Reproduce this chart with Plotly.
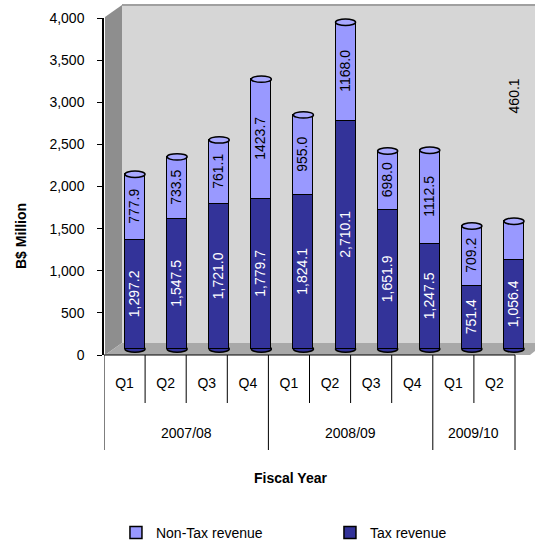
import plotly.graph_objects as go

# ---- data ----
fiscal_years = ["2007/08", "2007/08", "2007/08", "2007/08",
                "2008/09", "2008/09", "2008/09", "2008/09",
                "2009/10", "2009/10"]
quarters = ["Q1", "Q2", "Q3", "Q4", "Q1", "Q2", "Q3", "Q4", "Q1", "Q2"]
tax_revenue = [1297.2, 1547.5, 1721.0, 1779.7, 1824.1, 2710.1, 1651.9, 1247.5, 751.4, 1056.4]
nontax_revenue = [777.9, 733.5, 761.1, 1423.7, 955.0, 1168.0, 698.0, 1112.5, 709.2, 460.1]
y_ticks = [0, 500, 1000, 1500, 2000, 2500, 3000, 3500, 4000]

W, H = 535, 543
ML, MR, MT, MB = 104, 3, 18, 188
PW = W - ML - MR
PH = H - MT - MB
CAT_PX = 41.1      # pixel width of one category cell in the table
BAR_PX = 42.11     # perspective spacing of the cylinders
BAR0_PX = 135      # centre of first cylinder
FONT = "Liberation Sans, Arial, sans-serif"
FS = 14

def px(x):
    return (x - ML) / PW

def py(y):
    return (H - MB - y) / PH

n = len(quarters)
idx = list(range(n))

TAX_C = "#333399"
NONTAX_C = "#9999ff"

tax_text = [f"{v:,.1f}" for v in tax_revenue]
nontax_text = [f"{v:.1f}" for v in nontax_revenue]
nontax_text[-1] = ""  # last label is drawn above the chart in the original

fig = go.Figure()
fig.add_trace(go.Bar(
    x=idx, y=tax_revenue, name="Tax revenue", xaxis="x2", yaxis="y2",
    marker=dict(color=TAX_C, line=dict(color="black", width=1.5)),
    width=0.475, text=tax_text, textposition="inside", insidetextanchor="middle",
    textangle=-90, textfont=dict(color="white", size=FS, family=FONT),
    constraintext="none", hoverinfo="skip",
))
fig.add_trace(go.Bar(
    x=idx, y=nontax_revenue, name="Non-Tax revenue", xaxis="x2", yaxis="y2",
    marker=dict(color=NONTAX_C, line=dict(color="black", width=1.5)),
    width=0.475, text=nontax_text, textposition="inside", insidetextanchor="middle",
    textangle=-90, textfont=dict(color="black", size=FS, family=FONT),
    constraintext="none", hoverinfo="skip",
))

shapes = []
# 3D walls
shapes.append(dict(type="rect", xref="paper", yref="paper", layer="below",
                   x0=px(122), x1=px(545), y0=py(343), y1=py(5),
                   fillcolor="#d6d6d6", line=dict(width=0)))
shapes.append(dict(type="line", xref="paper", yref="paper", layer="below",
                   x0=px(122), x1=px(545), y0=py(5), y1=py(5),
                   line=dict(color="#a0a0a0", width=2)))
shapes.append(dict(type="path", xref="paper", yref="paper", layer="below",
                   path=f"M {px(105)},{py(355)} L {px(105)},{py(17)} L {px(122)},{py(5)} "
                        f"L {px(122)},{py(343)} Z",
                   fillcolor="#8e8e8e", line=dict(width=0)))
shapes.append(dict(type="path", xref="paper", yref="paper", layer="below",
                   path=f"M {px(105)},{py(355)} L {px(122)},{py(343)} L {px(545)},{py(343)} "
                        f"L {px(530)},{py(355)} Z",
                   fillcolor="#a8a8a8", line=dict(width=0)))

# cylinder bottoms and tops
for i in idx:
    total = tax_revenue[i] + nontax_revenue[i]
    shapes.append(dict(type="circle", xref="x2", yref="y2", layer="below",
                       x0=i - 0.2375, x1=i + 0.2375, y0=-38, y1=38,
                       fillcolor=TAX_C, line=dict(color="black", width=1.5)))
    shapes.append(dict(type="circle", xref="x2", yref="y2", layer="above",
                       x0=i - 0.2375, x1=i + 0.2375, y0=total - 38, y1=total + 38,
                       fillcolor="#a9a9ff", line=dict(color="black", width=1.5)))

# category table: top line and separators
shapes.append(dict(type="line", xref="x", yref="paper", x0=-0.5, x1=n - 0.5, y0=0, y1=0,
                   line=dict(color="black", width=1)))
group_bounds = [0]
for i in range(1, n):
    if fiscal_years[i] != fiscal_years[i - 1]:
        group_bounds.append(i)
group_bounds.append(n)
for b in range(n + 1):
    deep = b in group_bounds
    shapes.append(dict(type="line", xref="x", yref="paper",
                       x0=b - 0.5, x1=b - 0.5, y0=0, y1=py(450) if deep else py(403),
                       line=dict(color="black", width=1)))

annotations = []
for g in range(len(group_bounds) - 1):
    s, e = group_bounds[g], group_bounds[g + 1]
    annotations.append(dict(x=(s + e - 1) / 2, xref="x", y=py(433), yref="paper",
                            xanchor="center", yanchor="middle",
                            text=fiscal_years[s], showarrow=False,
                            font=dict(size=FS, color="black", family=FONT)))
annotations.append(dict(x=px(290), xref="paper", y=py(478), yref="paper",
                        xanchor="center", yanchor="middle",
                        text="<b>Fiscal Year</b>", showarrow=False,
                        font=dict(size=FS, color="black", family=FONT)))
annotations.append(dict(x=px(21), xref="paper", y=py(236), yref="paper",
                        xanchor="center", yanchor="middle",
                        text="<b>B$ Million</b>", showarrow=False, textangle=-90,
                        font=dict(size=FS, color="black", family=FONT)))
# last Non-Tax label sits above the chart in the original
annotations.append(dict(x=n - 1, xref="x2", y=3010, yref="y2",
                        xanchor="center", yanchor="middle",
                        text=f"{nontax_revenue[-1]:.1f}", showarrow=False, textangle=-90,
                        font=dict(size=FS, color="black", family=FONT)))

x_range = [-0.5, -0.5 + PW / CAT_PX]
x2_lo = -(BAR0_PX - ML) / BAR_PX
x2_range = [x2_lo, x2_lo + PW / BAR_PX]

fig.update_layout(
    width=W, height=H,
    margin=dict(l=ML, r=MR, t=MT, b=MB, autoexpand=False),
    paper_bgcolor="white", plot_bgcolor="rgba(0,0,0,0)",
    barmode="stack", bargap=0,
    font=dict(family=FONT, size=FS, color="black"),
    xaxis=dict(range=x_range, tickvals=idx, ticktext=quarters,
               showgrid=False, zeroline=False, showline=False,
               ticks="", ticklabelstandoff=18,
               tickfont=dict(size=FS, family=FONT, color="black")),
    xaxis2=dict(overlaying="x", range=x2_range, visible=False, anchor="y2"),
    yaxis=dict(range=[0, 4000], tickvals=y_ticks, tickformat=",",
               showgrid=False, zeroline=False, showline=True, linecolor="black",
               linewidth=1.5, ticks="outside", ticklen=5, tickcolor="black",
               ticklabelstandoff=10,
               tickfont=dict(size=FS, family=FONT, color="black")),
    yaxis2=dict(overlaying="y", range=[-71, 3929], visible=False, anchor="x2"),
    legend=dict(orientation="h", traceorder="reversed", x=-0.0001, xanchor="left",
                y=py(533), yanchor="middle", entrywidth=157, itemwidth=30,
                indentation=12,
                font=dict(size=FS, family=FONT, color="black"),
                bgcolor="rgba(0,0,0,0)"),
    shapes=shapes, annotations=annotations,
    showlegend=True,
)

fig.write_html("out.html")
